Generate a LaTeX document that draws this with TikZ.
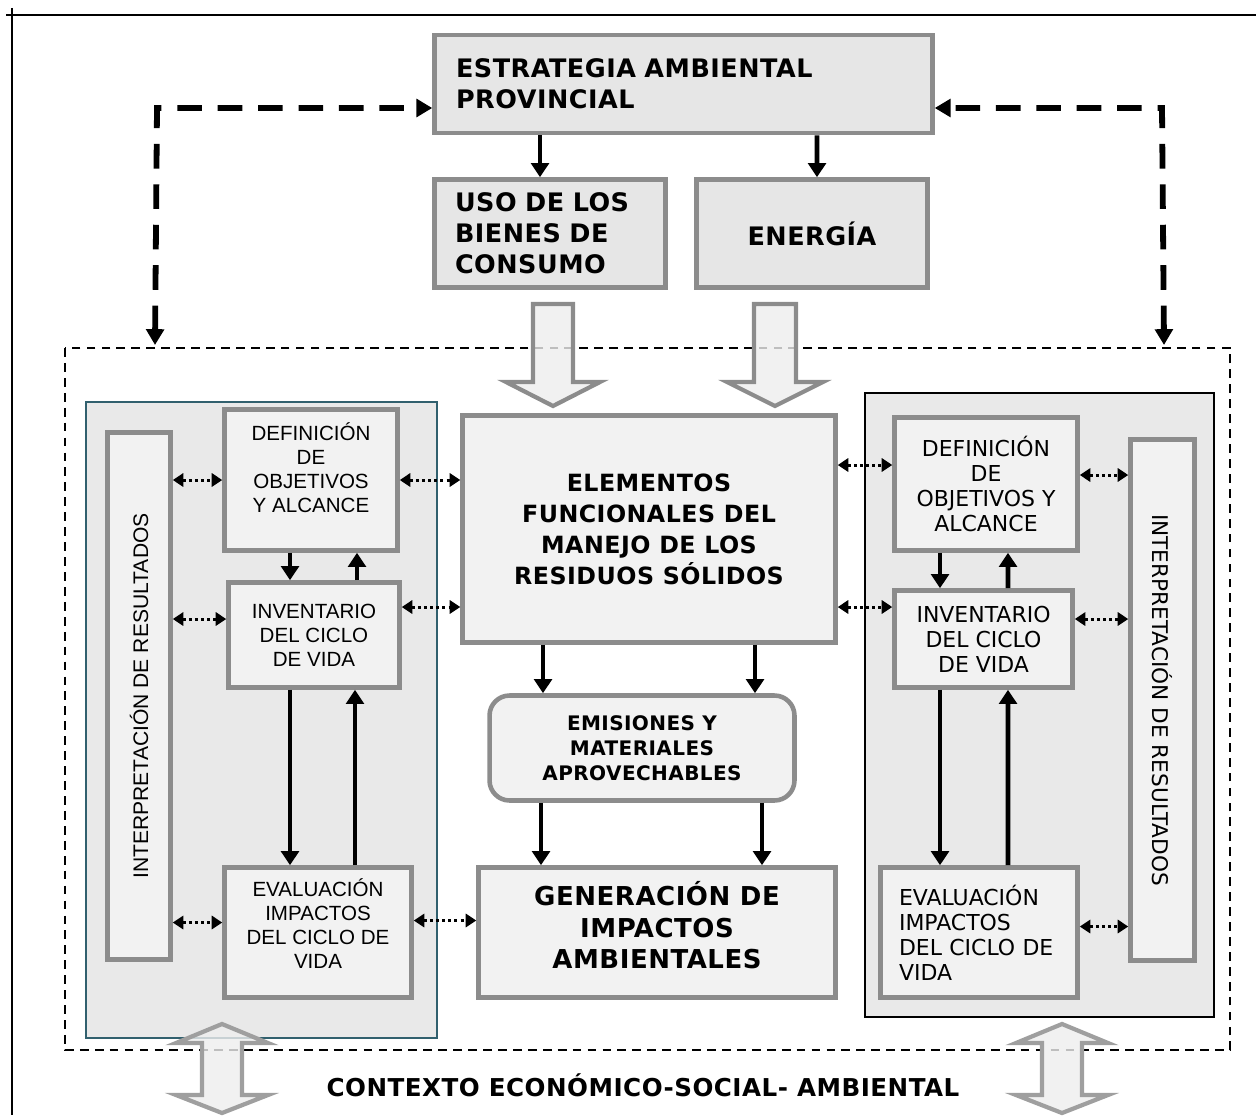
\documentclass[tikz,border=0pt]{standalone}
\usepackage{fontspec}
\usepackage{graphicx}
\newfontfamily\lsans{Liberation Sans}
\newfontfamily\dsans{DejaVu Sans}
\newfontfamily\hsans{DejaVu Sans}[LetterSpace=2]
\usetikzlibrary{arrows.meta,calc,positioning}

\definecolor{boxgray}{HTML}{8C8C8C}
\definecolor{topfill}{HTML}{E6E6E6}
\definecolor{innerfill}{HTML}{F2F2F2}
\definecolor{panelfill}{HTML}{E9E9E9}
\definecolor{tealline}{HTML}{31606E}
\definecolor{fatfill}{HTML}{EEEEEE}

\begin{document}
\begin{tikzpicture}[
    x=0.02cm, y=-0.02cm,
    box/.style={draw=boxgray, line width=2.6pt, fill=topfill, inner sep=0pt, align=center},
    head/.style={box, font={\hsans\bfseries\fontsize{14.5}{17.6}\selectfont}},
    midbox/.style={box, fill=innerfill, font={\hsans\bfseries\fontsize{13.5}{17.6}\selectfont}},
    leftbox/.style={box, fill=innerfill, font={\lsans\fontsize{11.7}{13.6}\selectfont}},
    rightbox/.style={box, fill=innerfill, font={\dsans\fontsize{12.5}{14.2}\selectfont}},
    panel/.style={fill=panelfill, line width=1.2pt, inner sep=0pt},
    arrow/.style={line width=2.6pt, -{Triangle[length=8pt,width=10pt]}},
    dotarrow/.style={line width=1.7pt, dash pattern=on 1.7pt off 1.8pt,
        {Triangle[length=6pt,width=7.5pt]}-{Triangle[length=6pt,width=7.5pt]}},
    dasharrow/.style={line width=3.3pt, dash pattern=on 14pt off 9pt,
        {Triangle[length=9pt,width=10pt]}-{Triangle[length=9pt,width=10pt]}},
    fatarrow/.style={draw=boxgray, line width=2.4pt, fill=fatfill, fill opacity=0.8, line join=miter},
]
\useasboundingbox (0,0) rectangle (1256,1115);

% page frame
\draw[line width=1.2pt] (6,15) -- (1256,15);
\draw[line width=1.5pt] (12,8) -- (12,1115);

% context frame
\draw[line width=0.8pt, dash pattern=on 5pt off 3.5pt] (65,348) rectangle (1230,1050);

% two LCA panels
\node[panel, draw=tealline, minimum width=7.02cm, minimum height=12.72cm] (panelL) at (261.5,720) {};
\node[panel, draw=black, minimum width=6.98cm, minimum height=12.48cm] (panelR) at (1039.5,705) {};

% top row
\node[head, minimum width=9.96cm, minimum height=1.96cm, text width=9.1cm, align=left] (strat) at (683.5,84)
    {ESTRATEGIA AMBIENTAL\\PROVINCIAL};
\node[head, minimum width=4.62cm, minimum height=2.16cm, text width=3.8cm, align=left] (uso) at (550,233.5)
    {USO DE LOS\\BIENES DE\\CONSUMO};
\node[head, minimum width=4.62cm, minimum height=2.16cm] (energia) at (812,233.5) {ENERGÍA};

% centre column
\node[midbox, minimum width=7.46cm, minimum height=4.54cm] (elem) at (649,529)
    {ELEMENTOS\\FUNCIONALES DEL\\MANEJO DE LOS\\RESIDUOS SÓLIDOS};
\node[midbox, rounded corners=0.4cm, minimum width=6.1cm, minimum height=2.1cm,
    font={\hsans\bfseries\fontsize{11.4}{14.2}\selectfont}] (emis) at (642,748)
    {EMISIONES Y\\MATERIALES\\APROVECHABLES};
\node[midbox, minimum width=7.14cm, minimum height=2.6cm, text depth=0.3cm,
    font={\hsans\bfseries\fontsize{14.8}{18}\selectfont}] (gen) at (657,932.5)
    {GENERACIÓN DE\\IMPACTOS\\AMBIENTALES};

% left panel
\node[leftbox, minimum width=1.26cm, minimum height=10.54cm, font={\lsans\fontsize{12}{13}\selectfont}] (interpL) at (139,696)
    {\rotatebox{90}{INTERPRETACIÓN DE RESULTADOS}};
\node[leftbox, minimum width=3.46cm, minimum height=2.82cm, text depth=0.5cm] (defL) at (311,480)
    {DEFINICIÓN\\DE\\OBJETIVOS\\Y ALCANCE};
\node[leftbox, minimum width=3.42cm, minimum height=2.1cm] (invL) at (314,635)
    {INVENTARIO\\DEL CICLO\\DE VIDA};
\node[leftbox, minimum width=3.74cm, minimum height=2.6cm, text depth=0.35cm] (evalL) at (318,932.5)
    {EVALUACIÓN\\IMPACTOS\\DEL CICLO DE\\VIDA};

% right panel
\node[rightbox, minimum width=1.28cm, minimum height=10.42cm, font={\dsans\fontsize{12.3}{13}\selectfont}] (interpR) at (1162.5,700)
    {\rotatebox{-90}{INTERPRETACIÓN DE RESULTADOS}};
\node[rightbox, minimum width=3.66cm, minimum height=2.66cm] (defR) at (986,484)
    {DEFINICIÓN\\DE\\OBJETIVOS Y\\ALCANCE};
\node[rightbox, minimum width=3.56cm, minimum height=1.94cm] (invR) at (983.5,639)
    {INVENTARIO\\DEL CICLO\\DE VIDA};
\node[rightbox, minimum width=3.94cm, minimum height=2.6cm, text width=3.2cm, align=left] (evalR) at (979,932.5)
    {EVALUACIÓN\\IMPACTOS\\DEL CICLO DE\\VIDA};

% bottom label
\node[font={\hsans\bfseries\fontsize{14}{17.6}\selectfont}] (ctx) at (643,1085)
    {CONTEXTO ECONÓMICO-SOCIAL- AMBIENTAL};

% strategy arrows
\draw[arrow] ($(strat.south)+(-143.5,0)$) -- ($(uso.north)+(-10,0)$);
\draw[arrow] ($(strat.south)+(133.5,0)$) -- ($(energia.north)+(5,0)$);

\coordinate (cornL) at (157,108);
\coordinate (endL) at (155,345);
\coordinate (cornR) at (1162,108);
\coordinate (endR) at (1164,345);
\draw[dasharrow] (endL) -- (cornL) -- (cornL -| strat.west);
\draw[dasharrow] (endR) -- (cornR) -- (cornR -| strat.east);

% fat arrows into the centre box
\foreach \cx/\hs/\hh in {553/20/47, 775/21/48}
    \draw[fatarrow] (\cx-\hs,304) -- (\cx+\hs,304) -- (\cx+\hs,382) -- (\cx+\hh,382)
        -- (\cx,406) -- (\cx-\hh,382) -- (\cx-\hs,382) -- cycle;

% centre flow
\draw[arrow] ($(elem.south)+(-106,0)$) -- ($(emis.north)+(-99,0)$);
\draw[arrow] ($(elem.south)+(106,0)$) -- ($(emis.north)+(113,0)$);
\draw[arrow] ($(emis.south)+(-101,0)$) -- ($(gen.north)+(-116,0)$);
\draw[arrow] ($(emis.south)+(120,0)$) -- ($(gen.north)+(105,0)$);

% left LCA steps
\draw[arrow] ($(defL.south)+(-21,0)$) -- ($(invL.north)+(-24,0)$);
\draw[arrow] ($(invL.north)+(43,0)$) -- ($(defL.south)+(46,0)$);
\draw[arrow] ($(invL.south)+(-24,0)$) -- ($(evalL.north)+(-28,0)$);
\draw[arrow] ($(evalL.north)+(37,0)$) -- ($(invL.south)+(41,0)$);

% right LCA steps
\draw[arrow] ($(defR.south)+(-46,0)$) -- ($(invR.north)+(-43.5,0)$);
\draw[arrow] ($(invR.north)+(24.5,0)$) -- ($(defR.south)+(22,0)$);
\draw[arrow] ($(invR.south)+(-43.5,0)$) -- ($(evalR.north)+(-39,0)$);
\draw[arrow] ($(evalR.north)+(29,0)$) -- ($(invR.south)+(24.5,0)$);

% dotted links
\draw[dotarrow] (interpL.east |- defL.west) -- (defL.west);
\draw[dotarrow] (defL.east) -- (defL.east -| elem.west);
\draw[dotarrow] ($(interpL.east |- invL.west)+(0,-16)$) -- ($(invL.west)+(0,-16)$);
\draw[dotarrow] ($(invL.east)+(0,-28)$) -- ($(invL.east -| elem.west)+(0,-28)$);
\draw[dotarrow] ($(interpL.east |- evalL.west)+(0,-10)$) -- ($(evalL.west)+(0,-10)$);
\draw[dotarrow] ($(evalL.east)+(0,-12)$) -- ($(evalL.east -| gen.west)+(0,-12)$);
\draw[dotarrow] ($(elem.east |- defR.west)+(0,-19)$) -- ($(defR.west)+(0,-19)$);
\draw[dotarrow] ($(defR.east)+(0,-9)$) -- ($(defR.east -| interpR.west)+(0,-9)$);
\draw[dotarrow] ($(elem.east |- invR.west)+(0,-32)$) -- ($(invR.west)+(0,-32)$);
\draw[dotarrow] ($(invR.east)+(0,-20)$) -- ($(invR.east -| interpR.west)+(0,-20)$);
\draw[dotarrow] ($(evalR.east)+(0,-6)$) -- ($(evalR.east -| interpR.west)+(0,-6)$);

% context arrows
\foreach \cx in {222, 1062}
    \draw[fatarrow, draw=gray!75] (\cx,1024) -- (\cx+46,1043) -- (\cx+20,1043) -- (\cx+20,1095)
        -- (\cx+46,1095) -- (\cx,1113) -- (\cx-46,1095) -- (\cx-20,1095) -- (\cx-20,1043)
        -- (\cx-46,1043) -- cycle;

\end{tikzpicture}
\end{document}
